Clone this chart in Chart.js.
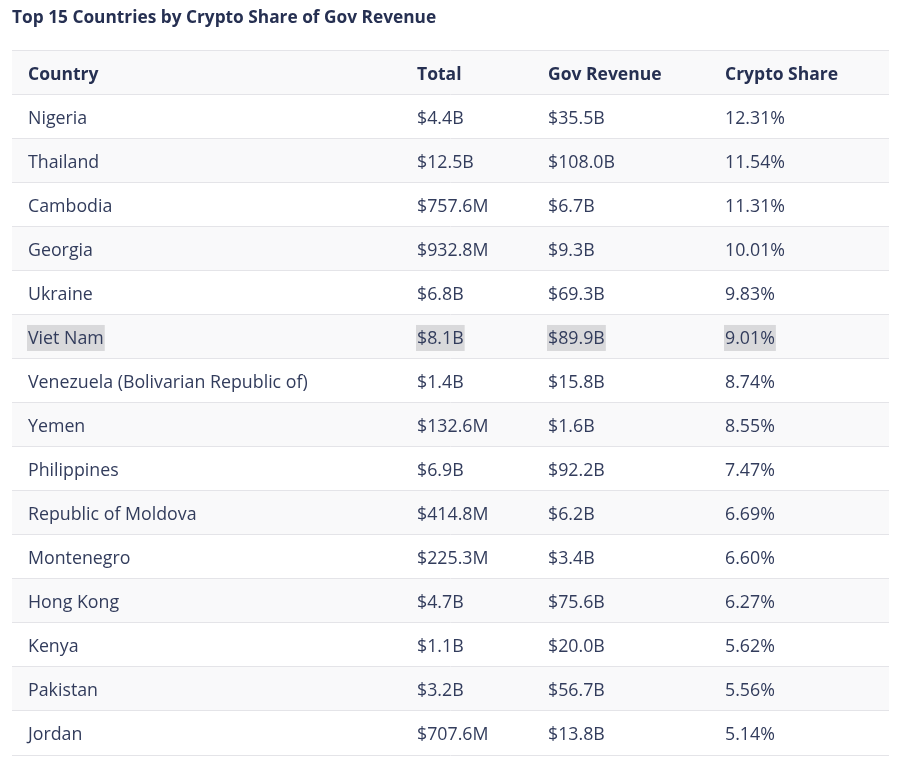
<!DOCTYPE html>
<html>
<head>
<meta charset="utf-8">
<script src="https://cdn.jsdelivr.net/npm/chart.js@4.4.1/dist/chart.umd.min.js"></script>
<style>
  html, body { margin: 0; padding: 0; background: #ffffff; }
  #wrap { width: 903px; height: 772px; }
</style>
</head>
<body>
<div id="wrap"><canvas id="table-chart" width="903" height="772"></canvas></div>
<script>
// table data
var headers = ['Country', 'Total', 'Gov Revenue', 'Crypto Share'];
var countries = ['Nigeria', 'Thailand', 'Cambodia', 'Georgia', 'Ukraine', 'Viet Nam',
    'Venezuela (Bolivarian Republic of)', 'Yemen', 'Philippines', 'Republic of Moldova',
    'Montenegro', 'Hong Kong', 'Kenya', 'Pakistan', 'Jordan'];
var totals = ['$4.4B', '$12.5B', '$757.6M', '$932.8M', '$6.8B', '$8.1B', '$1.4B', '$132.6M',
    '$6.9B', '$414.8M', '$225.3M', '$4.7B', '$1.1B', '$3.2B', '$707.6M'];
var govRevenue = ['$35.5B', '$108.0B', '$6.7B', '$9.3B', '$69.3B', '$89.9B', '$15.8B', '$1.6B',
    '$92.2B', '$6.2B', '$3.4B', '$75.6B', '$20.0B', '$56.7B', '$13.8B'];
var cryptoShare = [12.31, 11.54, 11.31, 10.01, 9.83, 9.01, 8.74, 8.55, 7.47, 6.69, 6.60, 6.27, 5.62, 5.56, 5.14];
var selectedRow = 'Viet Nam'; // row shown with text selected

var rowLabels = ['header'].concat(countries);
var columns = [
    countries,
    totals,
    govRevenue,
    cryptoShare.map(function (v) { return v.toFixed(2) + '%'; })
];

// layout (in x-scale units, table is 877 wide)
var TABLE_W = 877;
var colStart = [16, 405, 536, 713];
var textColor = '#323c5c';
var headColor = '#263052';
var stripe = '#f9f9fa';
var fontFamily = '"Open Sans", Lato, sans-serif';

var cellText = {
    id: 'cellText',
    afterDraw: function (chart) {
        var ctx = chart.ctx;
        var x = chart.scales.x;
        var y = chart.scales.y;
        ctx.save();
        ctx.textBaseline = 'middle';
        ctx.textAlign = 'left';
        // header
        ctx.font = 'bold 17.5px ' + fontFamily;
        ctx.fillStyle = headColor;
        headers.forEach(function (h, c) {
            ctx.fillText(h, x.getPixelForValue(colStart[c]), y.getPixelForValue(0) + 2);
        });
        // body
        ctx.font = '17.8px ' + fontFamily;
        countries.forEach(function (name, r) {
            var cy = y.getPixelForValue(r + 1);
            columns.forEach(function (col, c) {
                var px = x.getPixelForValue(colStart[c]);
                if (name === selectedRow) {
                    var w = ctx.measureText(col[r]).width;
                    ctx.fillStyle = '#d9d9db';
                    ctx.fillRect(px - 1, cy - 12, w + 2, 26);
                }
                ctx.fillStyle = textColor;
                ctx.fillText(col[r], px, cy + 2);
            });
        });
        ctx.restore();
    }
};

new Chart(document.getElementById('table-chart').getContext('2d'), {
    type: 'bar',
    data: {
        labels: rowLabels,
        datasets: [{
            label: 'rows',
            data: rowLabels.map(function () { return [0, TABLE_W]; }),
            backgroundColor: rowLabels.map(function (l, i) { return i % 2 === 0 ? stripe : '#ffffff'; }),
            borderWidth: 0,
            barPercentage: 1,
            categoryPercentage: 1
        }]
    },
    options: {
        indexAxis: 'y',
        responsive: false,
        animation: false,
        events: [],
        layout: { padding: { left: 12, right: 14, top: 0, bottom: 17 } },
        plugins: {
            legend: { display: false },
            tooltip: { enabled: false },
            title: {
                display: true,
                text: 'Top 15 Countries by Crypto Share of Gov Revenue',
                align: 'start',
                color: headColor,
                font: { family: fontFamily, size: 17.3, weight: 'bold', lineHeight: 1.2 },
                padding: { top: 8, bottom: 22.2 }
            }
        },
        scales: {
            x: {
                type: 'linear',
                min: 0,
                max: TABLE_W,
                display: false
            },
            y: {
                type: 'category',
                offset: true,
                border: { display: false },
                grid: { offset: true, z: 1, color: '#e4e4e8', lineWidth: 1, drawTicks: false },
                ticks: { display: false },
                afterFit: function (s) { s.width = 0; }
            }
        }
    },
    plugins: [cellText]
});
</script>
</body>
</html>
